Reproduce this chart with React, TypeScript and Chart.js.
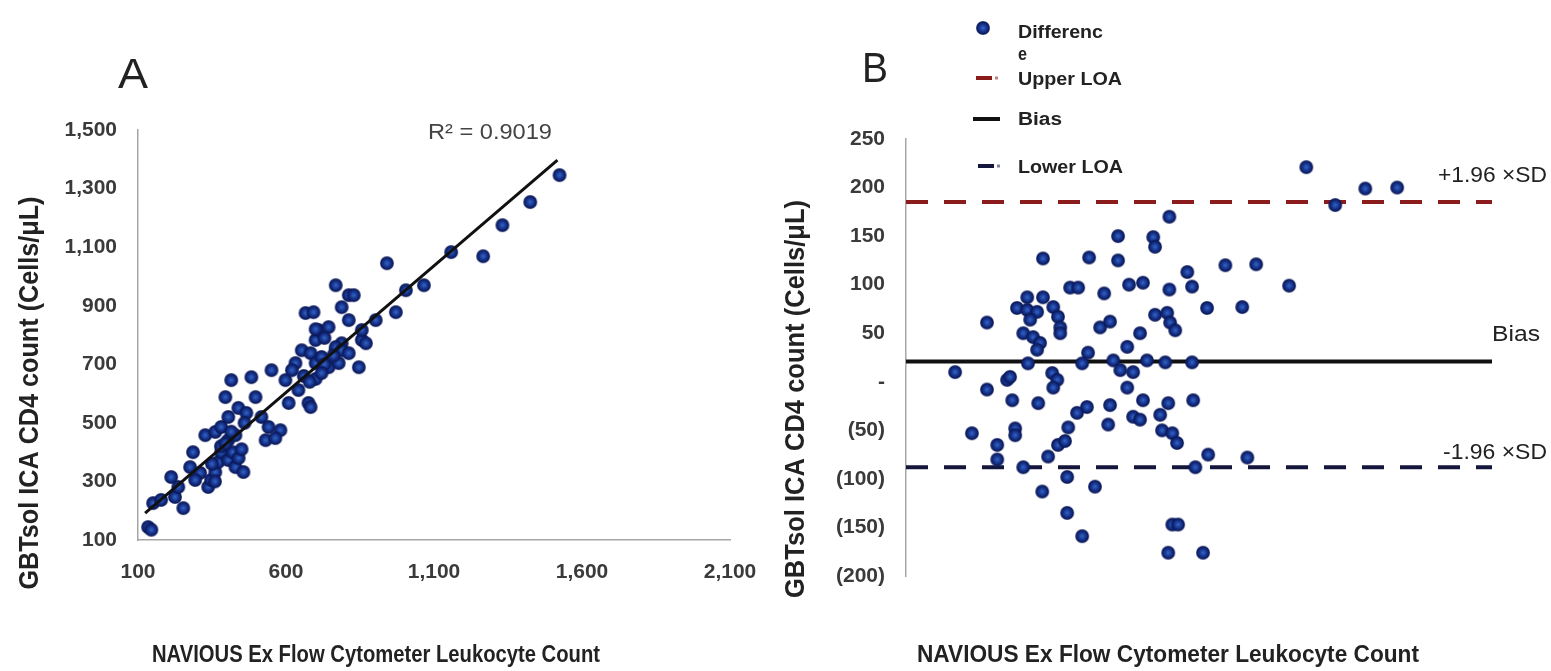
import React, { useEffect, useRef } from 'react';
import { Chart, registerables } from 'chart.js';
Chart.register(...registerables);

const W = 1551;
const H = 671;

// ---------- Panel A data ----------
const aX = [134, 145, 151, 178, 253, 212, 225, 236, 286, 276, 310, 293, 337, 347, 361, 371, 381, 405, 429, 405, 429, 456, 327, 361, 381, 405, 395, 415, 439, 466, 497, 517, 541, 531, 581, 564, 483, 551, 598, 609, 642, 676, 683, 632, 653, 683, 700, 720, 744, 778, 768, 788, 666, 693, 700, 710, 744, 768, 788, 812, 856, 870, 768, 812, 829, 788, 812, 856, 846, 903, 971, 1005, 1066, 941, 1158, 1266, 1331, 1425, 1524, 380, 420, 440, 360, 700, 730, 760, 620, 700, 730, 460, 350, 395, 415, 450, 660, 680, 720];
const aY = [144, 135, 226, 237, 209, 315, 247, 281, 400, 349, 329, 305, 281, 305, 332, 366, 400, 441, 458, 373, 349, 332, 458, 469, 486, 520, 588, 646, 551, 534, 588, 520, 486, 441, 475, 448, 656, 680, 646, 568, 612, 568, 554, 704, 748, 738, 704, 725, 690, 704, 748, 772, 875, 878, 783, 817, 827, 759, 748, 738, 783, 772, 970, 936, 936, 895, 851, 817, 690, 851, 878, 953, 970, 1045, 1083, 1069, 1175, 1254, 1346, 420, 400, 380, 300, 650, 700, 730, 680, 820, 790, 500, 360, 430, 470, 410, 660, 640, 670];
const aTrendX = [124, 1517];
const aTrendY = [192, 1397];
const aXTicks = [100, 600, 1100, 1600, 2100];
const aYTicks = [100, 300, 500, 700, 900, 1100, 1300, 1500];
const aR2 = 'R\u00B2 = 0.9019';

// ---------- Panel B data ----------
const bMean = [579, 675, 680, 374, 500, 579, 448, 470, 541, 609, 647, 331, 374, 303, 331, 358, 402, 415, 421, 421, 221, 339, 320, 347, 366, 358, 333, 530, 557, 639, 604, 680, 497, 481, 566, 585, 620, 658, 134, 221, 276, 284, 399, 413, 402, 290, 361, 604, 647, 557, 494, 467, 443, 552, 620, 639, 180, 298, 298, 249, 249, 415, 434, 388, 320, 440, 372, 516, 440, 481, 1093, 1172, 1254, 1341, 719, 768, 872, 956, 1046, 719, 781, 822, 918, 713, 721, 735, 708, 781, 716, 784, 694, 699, 727, 740, 790, 825, 932, 727, 743, 716, 811];
const bDiff = [150, 149, 139, 127, 128, 125, 97, 97, 91, 100, 102, 87, 87, 76, 74, 72, 77, 67, 56, 50, 61, 64, 50, 46, 40, 33, 19, 56, 62, 50, 36, 69, 30, 19, 22, 12, 10, 22, 10, -8, 2, 5, 9, 2, -6, -19, -22, -6, -19, -24, -26, -32, -47, -44, -36, -39, -53, -48, -55, -65, -80, -65, -61, -77, -88, -98, -113, -108, -135, -159, 221, 182, 199, 200, 170, 113, 120, 121, 99, 95, 98, 76, 77, 71, 61, 53, 20, 20, -22, -19, -34, -50, -53, -63, -88, -75, -78, -147, -147, -176, -176];
const bUpperLOA = 185;
const bBias = 21;
const bLowerLOA = -88;
const bLineX = [0, 1600];
const bYTicks = [-200, -150, -100, -50, 0, 50, 100, 150, 200, 250];

const FONT = '"Liberation Sans", Arial, sans-serif';

function makeDot(r: number) {
  const c = document.createElement('canvas');
  const s = r * 2 + 2;
  c.width = s;
  c.height = s;
  const g = c.getContext('2d')!;
  const grd = g.createRadialGradient(s / 2, s / 2, 0, s / 2, s / 2, r);
  grd.addColorStop(0, '#3467c6');
  grd.addColorStop(0.45, '#1a3a96');
  grd.addColorStop(0.85, '#0b1a5e');
  grd.addColorStop(1, 'rgba(11,24,85,0.75)');
  g.fillStyle = grd;
  g.beginPath();
  g.arc(s / 2, s / 2, r, 0, Math.PI * 2);
  g.fill();
  return c;
}

function fitText(ctx: CanvasRenderingContext2D, text: string, cx: number, cy: number, font: string, targetW: number, color: string, rotate = 0) {
  ctx.save();
  ctx.font = font;
  const w = ctx.measureText(text).width;
  ctx.translate(cx, cy);
  if (rotate) ctx.rotate(rotate);
  ctx.scale(targetW / w, 1);
  ctx.textAlign = 'center';
  ctx.textBaseline = 'middle';
  ctx.fillStyle = color;
  ctx.fillText(text, 0, 0);
  ctx.restore();
}
function leftText(ctx: CanvasRenderingContext2D, text: string, left: number, cy: number, font: string, targetW: number, color: string) {
  fitText(ctx, text, left + targetW / 2, cy, font, targetW, color);
}
function seg(ctx: CanvasRenderingContext2D, x1: number, x2: number, y: number, color: string, w: number) {
  ctx.save();
  ctx.strokeStyle = color;
  ctx.lineWidth = w;
  ctx.beginPath();
  ctx.moveTo(x1, y);
  ctx.lineTo(x2, y);
  ctx.stroke();
  ctx.restore();
}

const tickFont = { family: FONT, size: 21, weight: 'bold' as const };
const tickColor = '#3a3a3a';

export default function App() {
  const refA = useRef<HTMLCanvasElement>(null);
  const refB = useRef<HTMLCanvasElement>(null);

  useEffect(() => {
    const dot = makeDot(7);

    const annotA = {
      id: 'annotA',
      afterDraw(chart: any) {
        const ctx = chart.ctx as CanvasRenderingContext2D;
        fitText(ctx, 'A', 133, 76, `42px ${FONT}`, 30, '#222');
        fitText(ctx, aR2, 490, 133, `22px ${FONT}`, 124, '#444');
        fitText(ctx, 'GBTsol ICA CD4 count (Cells/\u03BCL)', 31, 393, `bold 27px ${FONT}`, 393, '#222', -Math.PI / 2);
        fitText(ctx, 'NAVIOUS Ex Flow Cytometer Leukocyte Count', 376, 655, `bold 24px ${FONT}`, 448, '#222');
      },
    };

    const chartA = new Chart(refA.current!, {
      type: 'scatter',
      data: {
        datasets: [
          {
            type: 'line',
            data: aTrendX.map((x, i) => ({ x, y: aTrendY[i] })),
            borderColor: '#111',
            borderWidth: 3,
            pointRadius: 0,
            order: 0,
          } as any,
          {
            data: aX.map((x, i) => ({ x, y: aY[i] })),
            pointStyle: dot as any,
            pointRadius: 7,
            order: 1,
          },
        ],
      },
      options: {
        responsive: false,
        animation: false,
        layout: { padding: { left: 0, top: 130, right: W - 730, bottom: 0 } },
        plugins: { legend: { display: false }, tooltip: { enabled: false } },
        scales: {
          x: {
            type: 'linear',
            min: 100,
            max: 2100,
            afterBuildTicks: (s: any) => { s.ticks = aXTicks.map((v) => ({ value: v })); },
            afterFit: (s: any) => { s.height = 131; },
            grid: { display: false, drawTicks: false },
            border: { display: true, color: '#a6a6a6', width: 1.5 },
            ticks: { padding: 20, font: tickFont, color: tickColor, maxRotation: 0, callback: (v: any) => Number(v).toLocaleString('en-US') },
          },
          y: {
            type: 'linear',
            min: 100,
            max: 1500,
            afterBuildTicks: (s: any) => { s.ticks = aYTicks.map((v) => ({ value: v })); },
            afterFit: (s: any) => { s.width = 138; },
            grid: { display: false, drawTicks: false },
            border: { display: true, color: '#a6a6a6', width: 1.5 },
            ticks: { padding: 21, font: tickFont, color: tickColor, callback: (v: any) => Number(v).toLocaleString('en-US') },
          },
        },
      },
      plugins: [annotA],
    });

    const annotB = {
      id: 'annotB',
      afterDraw(chart: any) {
        const ctx = chart.ctx as CanvasRenderingContext2D;
        fitText(ctx, 'B', 875, 70, `42px ${FONT}`, 26, '#222');
        fitText(ctx, 'GBTsol ICA CD4 count (Cells/\u03BCL)', 797, 399, `bold 27px ${FONT}`, 398, '#222', -Math.PI / 2);
        fitText(ctx, 'NAVIOUS Ex Flow Cytometer Leukocyte Count', 1168, 655, `bold 24px ${FONT}`, 502, '#222');
        const lf = `bold 18px ${FONT}`;
        ctx.drawImage(dot, 983 - dot.width / 2, 28 - dot.height / 2);
        leftText(ctx, 'Differenc', 1018, 33, lf, 85, '#222');
        leftText(ctx, 'e', 1018, 55, lf, 9, '#222');
        seg(ctx, 976, 992, 78, '#8b1c1c', 4);
        seg(ctx, 995, 998, 78, '#c08080', 3);
        leftText(ctx, 'Upper LOA', 1018, 80, lf, 104, '#222');
        seg(ctx, 973, 1000, 119, '#111', 4);
        leftText(ctx, 'Bias', 1018, 120, lf, 44, '#222');
        seg(ctx, 978, 994, 166, '#14163c', 4);
        seg(ctx, 997, 1000, 166, '#8080a0', 3);
        leftText(ctx, 'Lower LOA', 1018, 168, lf, 105, '#222');
        const tf = `22px ${FONT}`;
        leftText(ctx, '+1.96 \u00D7SD', 1438, 176, tf, 109, '#222');
        leftText(ctx, 'Bias', 1492, 335, tf, 48, '#222');
        leftText(ctx, '-1.96 \u00D7SD', 1443, 453, tf, 104, '#222');
      },
    };

    const lineDs = (y: number, color: string, dash: number[]) => ({
      type: 'line',
      data: bLineX.map((x) => ({ x, y })),
      borderColor: color,
      borderWidth: 4,
      borderDash: dash,
      pointRadius: 0,
      order: 1,
    } as any);

    const chartB = new Chart(refB.current!, {
      type: 'scatter',
      data: {
        datasets: [
          { label: 'Difference', data: bMean.map((x, i) => ({ x, y: bDiff[i] })), pointStyle: dot as any, pointRadius: 7, order: 0 },
          { ...lineDs(bUpperLOA, '#8b1c1c', [22, 16]), label: 'Upper LOA' },
          { ...lineDs(bBias, '#111111', []), label: 'Bias' },
          { ...lineDs(bLowerLOA, '#14163c', [22, 16]), label: 'Lower LOA' },
        ],
      },
      options: {
        responsive: false,
        animation: false,
        layout: { padding: { left: 0, top: 139, right: W - 1492, bottom: H - 576 } },
        plugins: { legend: { display: false }, tooltip: { enabled: false } },
        scales: {
          x: { type: 'linear', display: false, min: bLineX[0], max: bLineX[1] },
          y: {
            type: 'linear',
            min: -200,
            max: 250,
            afterBuildTicks: (s: any) => { s.ticks = bYTicks.map((v) => ({ value: v })); },
            afterFit: (s: any) => { s.width = 906; },
            grid: { display: false, drawTicks: false },
            border: { display: true, color: '#a6a6a6', width: 1.5 },
            ticks: {
              padding: 21,
              font: tickFont,
              color: tickColor,
              callback: (v: any) => (Number(v) < 0 ? `(${-Number(v)})` : Number(v) === 0 ? '-' : String(v)),
            },
          },
        },
      },
      plugins: [annotB],
    });

    return () => {
      chartA.destroy();
      chartB.destroy();
    };
  }, []);

  const cs: React.CSSProperties = { position: 'absolute', left: 0, top: 0, width: W, height: H };
  return (
    <div style={{ position: 'absolute', left: 0, top: 0, width: W, height: H, background: '#fff' }}>
      <canvas ref={refA} width={W} height={H} style={cs} />
      <canvas ref={refB} width={W} height={H} style={cs} />
    </div>
  );
}
